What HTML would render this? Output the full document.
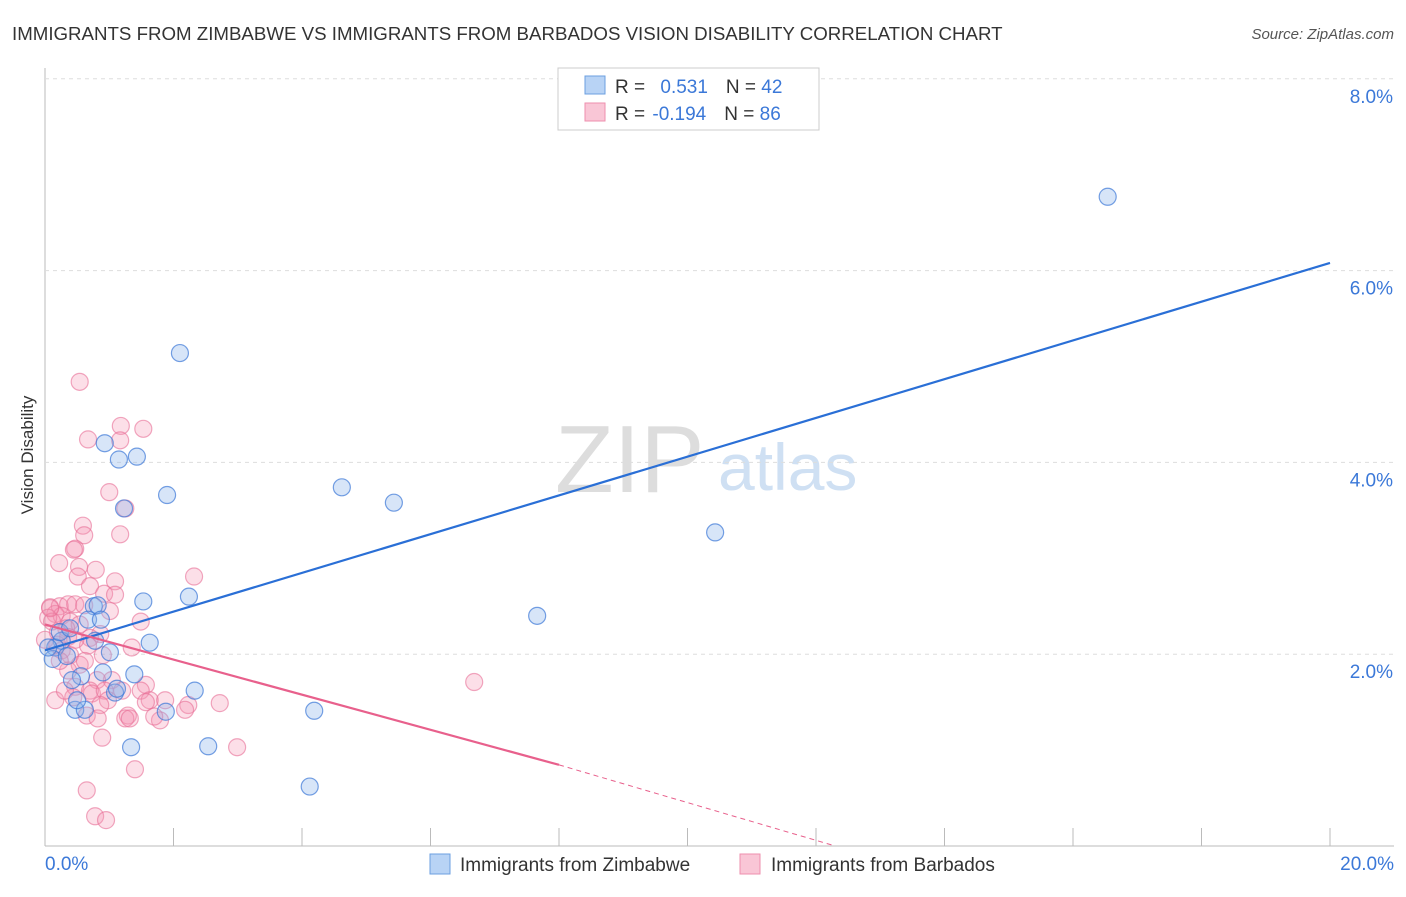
<!DOCTYPE html>
<html><head><meta charset="utf-8"><style>
body{margin:0;background:#fff;font-family:"Liberation Sans",sans-serif}
svg text{font-family:"Liberation Sans",sans-serif}
</style></head><body>
<svg id="c" width="1406" height="892">
<text x="12" y="40" font-size="18.7" fill="#333">IMMIGRANTS FROM ZIMBABWE VS IMMIGRANTS FROM BARBADOS VISION DISABILITY CORRELATION CHART</text>
<text x="1394" y="39" font-size="15" fill="#555" font-style="italic" text-anchor="end">Source: ZipAtlas.com</text>
<text x="33" y="455" font-size="17" fill="#333" text-anchor="middle" transform="rotate(-90 33 455)">Vision Disability</text>
<text x="555" y="492" font-size="96" fill="#ddd" font-family="Liberation Serif">ZIP</text>
<text x="718" y="490" font-size="66" fill="#cfe0f3">atlas</text>
<g id="grid"></g><g id="pts"></g><g id="lines"></g>
<g>
<rect x="558" y="68" width="261" height="62" fill="#fff" stroke="#ccc"/>
<rect x="585" y="76" width="20" height="18" fill="#b8d3f5" stroke="#6b9fe0"/>
<rect x="585" y="103" width="20" height="18" fill="#f9c6d6" stroke="#ee8fae"/>
<text x="615" y="93" font-size="19" fill="#333">R = <tspan fill="#3b78d8" dx="10">0.531</tspan><tspan dx="18" fill="#333">N = </tspan><tspan fill="#3b78d8">42</tspan></text>
<text x="615" y="120" font-size="19" fill="#333">R = <tspan fill="#3b78d8" dx="2">-0.194</tspan><tspan dx="18" fill="#333">N = </tspan><tspan fill="#3b78d8">86</tspan></text>
</g>
<g>
<rect x="430" y="854" width="20" height="20" fill="#b8d3f5" stroke="#6b9fe0"/>
<text x="460" y="871" font-size="19" fill="#333">Immigrants from Zimbabwe</text>
<rect x="740" y="854" width="20" height="20" fill="#f9c6d6" stroke="#ee8fae"/>
<text x="771" y="871" font-size="19" fill="#333">Immigrants from Barbados</text>
</g>
</svg>
<script>
const yTicks=[2,4,6,8];
const yTickLabels=["2.0%","4.0%","6.0%","8.0%"];
const xTicks=[0,2,4,6,8,10,12,14,16,18,20];
const blueX=[16.54,2.1,0.93,1.15,1.43,1.9,4.62,5.43,10.43,1.23,7.66,1.53,2.24,0.76,0.82,0.67,0.87,1.63,0.78,0.26,1.01,0.16,0.12,0.34,1.39,0.56,0.9,0.42,2.33,1.09,1.12,0.47,0.62,1.88,4.19,2.54,1.34,4.12,0.23,0.39,0.05,0.5];
const blueY=[6.77,5.14,4.2,4.03,4.06,3.66,3.74,3.58,3.27,3.52,2.4,2.55,2.6,2.5,2.51,2.36,2.36,2.12,2.14,2.14,2.02,2.07,1.95,1.98,1.79,1.77,1.81,1.73,1.62,1.6,1.64,1.42,1.42,1.4,1.41,1.04,1.03,0.62,2.23,2.27,2.07,1.52];
const pinkX=[0.54,0.67,1.18,1.53,1.17,1.0,1.25,0.59,0.61,1.17,0.47,0.45,0.22,0.53,0.79,0.51,1.09,0.7,2.32,0.92,0.08,0.23,0.36,0.47,0.61,1.01,1.49,0.16,0.26,0.05,0.11,0.39,0.54,0.33,0.2,0.86,0.36,0,0.7,1.35,0.26,0.67,0.39,0.9,0.54,0.36,1.04,0.81,1.57,0.47,0.7,0.73,1.49,0.93,1.2,0.44,1.63,0.98,1.57,2.72,2.23,0.86,1.29,0.65,1.79,1.25,0.82,1.7,0.89,2.99,1.4,0.65,0.78,0.95,6.68,0.08,0.16,0.31,0.19,0.62,1.09,0.23,1.87,2.18,1.32,0.47];
const pinkY=[4.84,4.24,4.38,4.35,4.23,3.69,3.52,3.34,3.24,3.25,3.1,3.09,2.95,2.91,2.88,2.81,2.76,2.71,2.81,2.63,2.49,2.5,2.52,2.52,2.51,2.45,2.34,2.42,2.4,2.38,2.34,2.34,2.31,2.27,2.23,2.21,2.18,2.15,2.17,2.07,2.04,2.09,1.99,1.99,1.89,1.83,1.73,1.73,1.68,1.66,1.62,1.59,1.62,1.62,1.62,1.55,1.52,1.52,1.5,1.49,1.47,1.47,1.36,1.36,1.31,1.33,1.33,1.35,1.13,1.03,0.8,0.58,0.31,0.27,1.71,2.48,1.52,1.62,2.1,1.93,2.62,1.93,1.52,1.42,1.33,2.15];
const blueLine=[2.04,6.08];
const pinkLine=[2.31,-0.183];
const X=v=>45+v*64.25, Y=v=>846-v*95.9;
const NS="http://www.w3.org/2000/svg";
function mk(t,a,p){const e=document.createElementNS(NS,t);for(const k in a)e.setAttribute(k,a[k]);p.appendChild(e);return e;}
const g=document.getElementById('grid');
let ax=mk('line',{x1:45,y1:68,x2:45,y2:846,stroke:'#bbb'},g);


let bx=mk('line',{x1:45,y1:846,x2:1394,y2:846,stroke:'#bbb'},g);


yTicks.forEach((t,i)=>{
 const l=mk('line',{x1:45,y1:Y(t),x2:1394,y2:Y(t),stroke:'#ddd','stroke-dasharray':'4,4'},g);
 
 
 const tx=mk('text',{x:1393,y:Y(t)+24,'font-size':19,fill:'#3b78d8','text-anchor':'end'},g);
 tx.textContent=yTickLabels[i];
 
 
});
xTicks.forEach(t=>{
 const l=mk('line',{x1:X(t),y1:828,x2:X(t),y2:846,stroke:'#bbb'},g);
 
 
});
let x0=mk('text',{x:45,y:870,'font-size':19,fill:'#3b78d8'},g);x0.textContent="0.0%";


let x1=mk('text',{x:1394,y:870,'font-size':19,fill:'#3b78d8','text-anchor':'end'},g);x1.textContent="20.0%";


const p=document.getElementById('pts');
pinkX.forEach((v,i)=>{
 const c=mk('circle',{cx:X(v),cy:Y(pinkY[i]),r:8.5,fill:'rgba(244,150,180,0.3)',stroke:'rgba(232,110,150,0.6)','stroke-width':1.2},p);
 
 
});
blueX.forEach((v,i)=>{
 const c=mk('circle',{cx:X(v),cy:Y(blueY[i]),r:8.5,fill:'rgba(140,180,235,0.35)',stroke:'rgba(60,120,215,0.7)','stroke-width':1.2},p);
 
 
});
const L=document.getElementById('lines');
let bl=mk('line',{x1:X(0),y1:Y(blueLine[0]),x2:X(20),y2:Y(blueLine[1]),stroke:'#2a6fd6','stroke-width':2.2},L);


const pe=8, pz=12.3;
let pl=mk('line',{x1:X(0),y1:Y(pinkLine[0]),x2:X(pe),y2:Y(pinkLine[0]+pinkLine[1]*pe),stroke:'#e8608c','stroke-width':2.2},L);


let pd=mk('line',{x1:X(pe),y1:Y(pinkLine[0]+pinkLine[1]*pe),x2:X(pz),y2:Y(0),stroke:'#e8608c','stroke-width':1,'stroke-dasharray':'5,4'},L);


</script>
</body></html>
